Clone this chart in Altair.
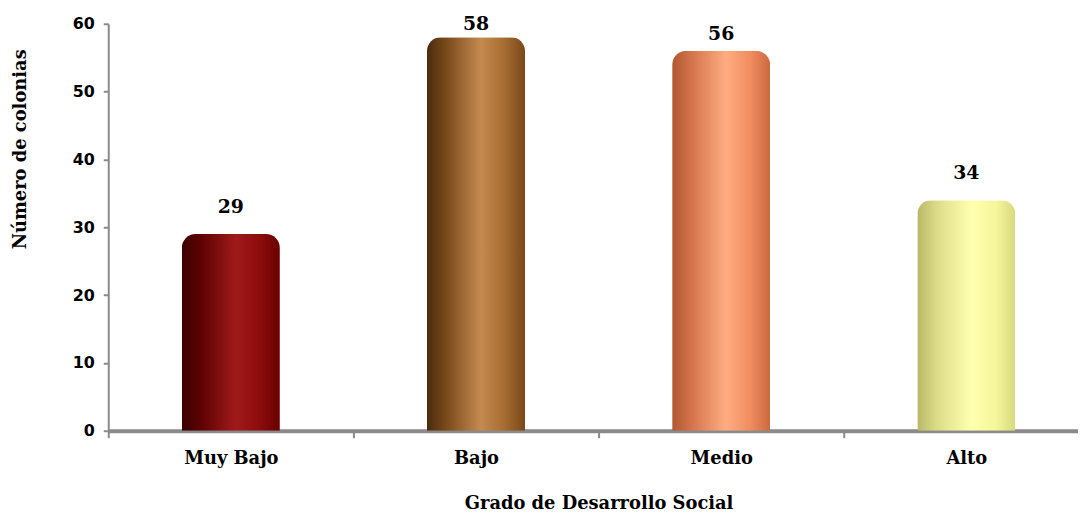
import altair as alt
import pandas as pd

categories = ["Muy Bajo", "Bajo", "Medio", "Alto"]
values = [29, 58, 56, 34]
y_ticks = [0, 10, 20, 30, 40, 50, 60]
# left edge, dark, highlight, mid, right edge
bar_colors = {
    "Muy Bajo": ["#3a0000", "#5e0202", "#a01a1a", "#8c0c0c", "#6a0000"],
    "Bajo": ["#4a2c0c", "#7a4a1c", "#c48a50", "#a46a30", "#7a4818"],
    "Medio": ["#b05830", "#d4744c", "#ffac82", "#f08c60", "#cc683e"],
    "Alto": ["#b8b868", "#dcdc88", "#ffffb0", "#f6f69c", "#d8d87c"],
}

df = pd.DataFrame({"cat": categories, "val": values})

FONT_SERIF = "DejaVu Serif"
Y_TITLE = "Número de colonias"

x_enc = alt.X(
    "cat:N",
    sort=categories,
    scale=alt.Scale(range=[0, 988], paddingInner=0, paddingOuter=0),
    axis=alt.Axis(
        title="Grado de Desarrollo Social",
        labelAngle=0,
        labelFont=FONT_SERIF,
        labelFontSize=18,
        labelFontWeight="bold",
        labelColor="#000000",
        labelPadding=12,
        labelBaseline="top",
        tickBand="extent",
        tickSize=7,
        tickColor="#8a8a8a",
        tickWidth=2,
        domainColor="#8a8a8a",
        domainWidth=4,
        titleFont=FONT_SERIF,
        titleFontSize=18,
        titleFontWeight="bold",
        titleColor="#000000",
        titlePadding=27,
        grid=False,
    ),
)

y_axis = alt.Axis(
    title=Y_TITLE,
    values=y_ticks,
    labelFont="DejaVu Sans",
    labelFontSize=16,
    labelFontWeight="bold",
    labelColor="#000000",
    labelPadding=9,
    tickSize=5,
    tickColor="#8a8a8a",
    tickWidth=2,
    domainColor="#8a8a8a",
    domainWidth=2,
    titleFont=FONT_SERIF,
    titleFontSize=18,
    titleFontWeight="bold",
    titleColor="#000000",
    titleAngle=270,
    titleX=-88,
    titleY=126,
    titleAlign="center",
    titleBaseline="middle",
    grid=False,
)
y_scale = alt.Scale(domain=[0, 60], nice=False)

y_enc = alt.Y("val:Q", scale=y_scale, axis=y_axis, title=Y_TITLE)

base = alt.Chart(df)

layers = []
for c in categories:
    cols = bar_colors[c]
    grad = alt.LinearGradient(
        gradient="linear",
        x1=0, x2=1, y1=0, y2=0,
        stops=[
            alt.GradientStop(color=cols[0], offset=0),
            alt.GradientStop(color=cols[1], offset=0.2),
            alt.GradientStop(color=cols[2], offset=0.55),
            alt.GradientStop(color=cols[3], offset=0.8),
            alt.GradientStop(color=cols[4], offset=1),
        ],
    )
    layers.append(
        base.transform_filter(alt.datum.cat == c)
        .mark_bar(
            fill=grad,
            width=alt.RelativeBandSize(0.4),
            cornerRadiusTopLeft=14,
            cornerRadiusTopRight=14,
        )
        .encode(x=x_enc, y=y_enc)
    )

# label placement: above the bar, pulled down a little for the tallest bars
labels = (
    base.transform_calculate(
        label_y="datum.val + 2.5 - max(0, datum.val - 50) * 0.25"
    )
    .mark_text(
        baseline="bottom",
        font=FONT_SERIF,
        fontSize=19,
        fontWeight="bold",
        color="#000000",
    )
    .encode(
        x=x_enc,
        y=alt.Y("label_y:Q", scale=y_scale, axis=y_axis, title=Y_TITLE),
        text="val:Q",
    )
)

chart = (
    alt.layer(*layers, labels)
    .properties(
        width=977,
        height=410,
        autosize=alt.AutoSizeParams(type="none"),
        padding={"left": 101, "top": 14, "right": 0, "bottom": 83},
    )
    .configure(background="#ffffff")
    .configure_view(stroke=None)
)

chart.save("out.html", embed_options={"renderer": "svg", "actions": False})
